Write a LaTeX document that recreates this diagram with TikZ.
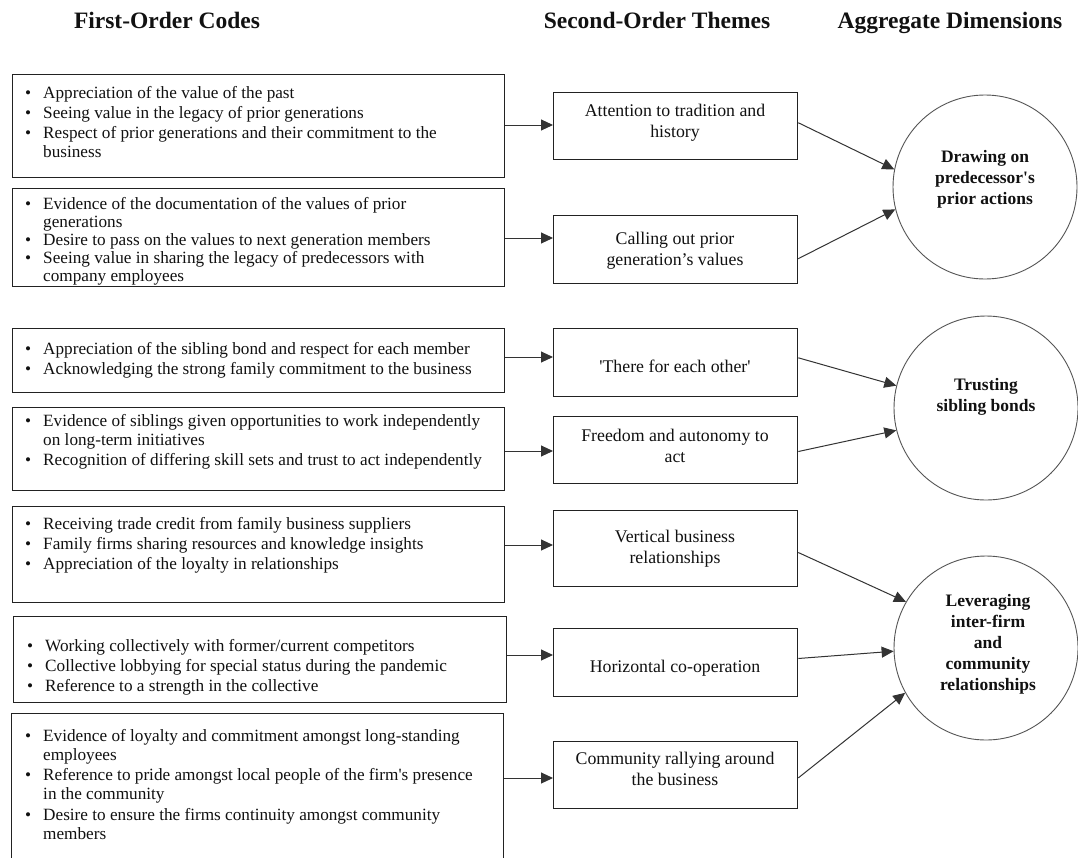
\documentclass[tikz,border=0pt]{standalone}
\usepackage{fontspec}
\setmainfont{Liberation Serif}
\usetikzlibrary{arrows.meta,calc}
\definecolor{boxc}{HTML}{222222}
\definecolor{arrc}{HTML}{333333}
\definecolor{circc}{HTML}{555555}
\definecolor{txtc}{HTML}{111111}
\newcommand{\sq}{\textquotesingle}
\begin{document}
\begin{tikzpicture}[x=1pt,y=-1pt,
  lbox/.style={draw=boxc, line width=1.3pt, minimum width=492pt, anchor=north west, inner sep=0pt},
  mbox/.style={draw=boxc, line width=1.3pt, minimum width=244pt, anchor=north west, inner sep=0pt},
  dim/.style={draw=circc, line width=0.9pt, circle, minimum size=184pt, inner sep=0pt},
  ltext/.style={anchor=base west, inner sep=0pt, text=txtc, font=\fontsize{17.2}{19.3}\selectfont},
  mtext/.style={anchor=base, inner sep=0pt, text=txtc, font=\fontsize{17.8}{21}\selectfont},
  dtext/.style={anchor=base, inner sep=0pt, text=txtc, font=\bfseries\fontsize{17.5}{21}\selectfont},
  head/.style={anchor=base, inner sep=0pt, text=txtc, font=\bfseries\fontsize{23.5}{26}\selectfont},
  arr/.style={draw=arrc, line width=1pt, -{Triangle[length=12pt,width=11pt]}}
]
\useasboundingbox (0,0) rectangle (1078,857);
\clip (0,0) rectangle (1078,857);
\fill[white] (0,0) rectangle (1078,857);

% headings
\node[head] (h1) at (167,28) {First-Order Codes};
\node[head] (h2) at (657,28) {Second-Order Themes};
\node[head] (h3) at (950,28) {Aggregate Dimensions};

% first-order boxes
\node[lbox, minimum height=103pt] (l1) at (12,74) {};
\node[lbox, minimum height=98pt] (l2) at (12,188) {};
\node[lbox, minimum height=64pt] (l3) at (12,328) {};
\node[lbox, minimum height=83pt] (l4) at (12,407) {};
\node[lbox, minimum height=96pt] (l5) at (12,506) {};
\node[lbox, minimum height=86pt, minimum width=493pt] (l6) at (13,616) {};
\node[lbox, minimum height=170pt] (l7) at (11,713) {};

\node[ltext] (t1) at (25,98) {\begin{tabular}[t]{@{}l@{\hspace{12pt}}l@{}}
\textbullet & Appreciation of the value of the past\\[1pt]
\textbullet & Seeing value in the legacy of prior generations\\[1pt]
\textbullet & Respect of prior generations and their commitment to the\\
 & business\end{tabular}};
\node[ltext, font=\fontsize{17.2}{18}\selectfont] (t2) at (25,209) {\begin{tabular}[t]{@{}l@{\hspace{12pt}}l@{}}
\textbullet & Evidence of the documentation of the values of prior\\
 & generations\\
\textbullet & Desire to pass on the values to next generation members\\
\textbullet & Seeing value in sharing the legacy of predecessors with\\
 & company employees\end{tabular}};
\node[ltext] (t3) at (25,354) {\begin{tabular}[t]{@{}l@{\hspace{12pt}}l@{}}
\textbullet & Appreciation of the sibling bond and respect for each member\\[1pt]
\textbullet & Acknowledging the strong family commitment to the business\end{tabular}};
\node[ltext] (t4) at (25,426) {\begin{tabular}[t]{@{}l@{\hspace{12pt}}l@{}}
\textbullet & Evidence of siblings given opportunities to work independently\\
 & on long-term initiatives\\[1pt]
\textbullet & Recognition of differing skill sets and trust to act independently\end{tabular}};
\node[ltext] (t5) at (25,529) {\begin{tabular}[t]{@{}l@{\hspace{12pt}}l@{}}
\textbullet & Receiving trade credit from family business suppliers\\[1pt]
\textbullet & Family firms sharing resources and knowledge insights\\[1pt]
\textbullet & Appreciation of the loyalty in relationships\end{tabular}};
\node[ltext] (t6) at (27,651) {\begin{tabular}[t]{@{}l@{\hspace{12pt}}l@{}}
\textbullet & Working collectively with former/current competitors\\[1pt]
\textbullet & Collective lobbying for special status during the pandemic\\[1pt]
\textbullet & Reference to a strength in the collective\end{tabular}};
\node[ltext] (t7) at (25,741) {\begin{tabular}[t]{@{}l@{\hspace{12pt}}l@{}}
\textbullet & Evidence of loyalty and commitment amongst long-standing\\
 & employees\\[1pt]
\textbullet & Reference to pride amongst local people of the firm\sq s presence\\
 & in the community\\[1pt]
\textbullet & Desire to ensure the firms continuity amongst community\\
 & members\end{tabular}};

% second-order boxes
\node[mbox, minimum height=67pt] (m1) at (553,92) {};
\node[mbox, minimum height=68pt] (m2) at (553,215) {};
\node[mbox, minimum height=68pt] (m3) at (553,328) {};
\node[mbox, minimum height=67pt] (m4) at (553,416) {};
\node[mbox, minimum height=76pt] (m5) at (553,510) {};
\node[mbox, minimum height=68pt] (m6) at (553,628) {};
\node[mbox, minimum height=67pt] (m7) at (553,741) {};

\node[mtext] (n1) at (675,116) {\begin{tabular}[t]{@{}c@{}}Attention to tradition and\\history\end{tabular}};
\node[mtext] (n2) at (675,244) {\begin{tabular}[t]{@{}c@{}}Calling out prior\\generation’s values\end{tabular}};
\node[mtext] (n3) at (675,372) {\sq There for each other\sq};
\node[mtext] (n4) at (675,441) {\begin{tabular}[t]{@{}c@{}}Freedom and autonomy to\\act\end{tabular}};
\node[mtext] (n5) at (675,542) {\begin{tabular}[t]{@{}c@{}}Vertical business\\relationships\end{tabular}};
\node[mtext] (n6) at (675,672) {Horizontal co-operation};
\node[mtext] (n7) at (675,764) {\begin{tabular}[t]{@{}c@{}}Community rallying around\\the business\end{tabular}};

% aggregate dimensions
\node[dim] (c1) at (985,187) {};
\node[dim] (c2) at (986,408) {};
\node[dim] (c3) at (986,648) {};
\node[dtext] (d1) at (985,162) {\begin{tabular}[t]{@{}c@{}}Drawing on\\predecessor\sq s\\prior actions\end{tabular}};
\node[dtext] (d2) at (986,390) {\begin{tabular}[t]{@{}c@{}}Trusting\\sibling bonds\end{tabular}};
\node[dtext] (d3) at (988,606) {\begin{tabular}[t]{@{}c@{}}Leveraging\\inter-firm\\and\\community\\relationships\end{tabular}};

% first -> second order
\coordinate (a1) at (0,125);
\coordinate (a2) at (0,238);
\coordinate (a3) at (0,357);
\coordinate (a4) at (0,451);
\coordinate (a5) at (0,545);
\coordinate (a6) at (0,655);
\coordinate (a7) at (0,778);
\draw[arr] (l1.east |- a1) -- (m1.west |- a1);
\draw[arr] (l2.east |- a2) -- (m2.west |- a2);
\draw[arr] (l3.east |- a3) -- (m3.west |- a3);
\draw[arr] (l4.east |- a4) -- (m4.west |- a4);
\draw[arr] (l5.east |- a5) -- (m5.west |- a5);
\draw[arr] (l6.east |- a6) -- (m6.west |- a6);
\draw[arr] (l7.east |- a7) -- (m7.west |- a7);

% second order -> aggregate
\draw[arr] ($(m1.north east)!0.45!(m1.south east)$) -- (c1.169);
\draw[arr] ($(m2.north east)!0.63!(m2.south east)$) -- (c1.194);
\draw[arr] ($(m3.north east)!0.43!(m3.south east)$) -- (c2.166);
\draw[arr] ($(m4.north east)!0.52!(m4.south east)$) -- (c2.194);
\draw[arr] ($(m5.north east)!0.55!(m5.south east)$) -- (c3.150);
\draw[arr] ($(m6.north east)!0.44!(m6.south east)$) -- (c3.182);
\draw[arr] ($(m7.north east)!0.54!(m7.south east)$) -- (c3.209);
\end{tikzpicture}
\end{document}
